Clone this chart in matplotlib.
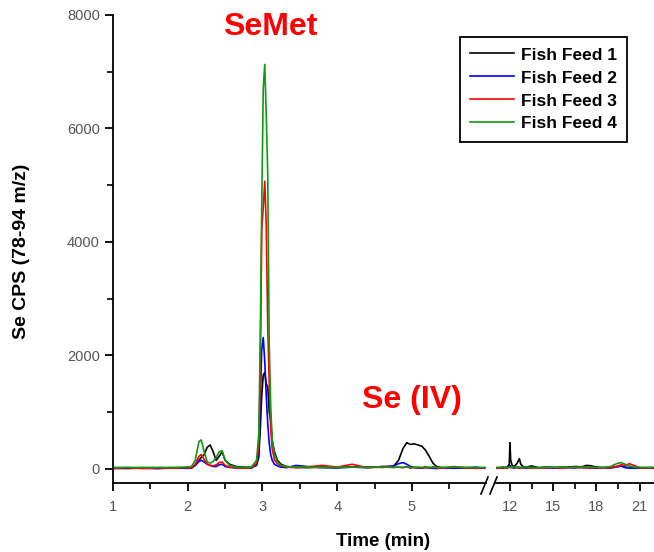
import numpy as np
import matplotlib.pyplot as plt
from matplotlib.lines import Line2D
from matplotlib.ticker import MultipleLocator, FixedLocator

plt.rcParams['font.family'] = ['Liberation Sans', 'DejaVu Sans']

# retention time grid, first part (min)
t_left = [1.00, 1.20, 1.40, 1.60, 1.80, 1.95, 2.05, 2.10, 2.15, 2.18, 2.22, 2.26,
          2.30, 2.34, 2.38, 2.42, 2.46, 2.50, 2.56, 2.65, 2.75, 2.85, 2.92, 2.95,
          2.97, 2.99, 3.01, 3.03, 3.05, 3.07, 3.09, 3.11, 3.13, 3.16, 3.20, 3.25,
          3.32, 3.45, 3.60, 3.80, 4.00, 4.20, 4.40, 4.60, 4.75, 4.82, 4.88, 4.93,
          4.98, 5.03, 5.08, 5.13, 5.18, 5.23, 5.28, 5.33, 5.40, 5.55, 5.70, 5.85, 5.97]

feed1_left = [10, 5, 15, 8, 12, 15, 20, 60, 150, 200, 250, 380,
              420, 300, 150, 220, 300, 150, 80, 40, 30, 25, 60, 200,
              700, 1300, 1650, 1700, 1500, 1440, 1000, 850, 500, 300, 150, 80,
              40, 25, 20, 30, 25, 35, 30, 25, 40, 150, 360, 460,
              430, 440, 420, 400, 330, 220, 100, 40, 20, 15, 20, 10, 15]
feed2_left = [5, 15, 10, 5, 20, 10, 10, 60, 130, 150, 120, 80,
              60, 40, 40, 70, 80, 40, 25, 15, 20, 10, 80, 300,
              1200, 2100, 2315, 1900, 1300, 800, 450, 250, 150, 80, 50, 30,
              20, 60, 40, 20, 15, 30, 20, 40, 50, 90, 110, 80,
              40, 20, 15, 10, 20, 15, 10, 5, 20, 10, 15, 30, 10]
feed3_left = [10, 20, 5, 15, 10, 20, 20, 80, 220, 250, 160, 80,
              60, 50, 70, 110, 120, 60, 30, 20, 10, 15, 100, 400,
              1700, 4200, 4600, 5070, 4300, 2500, 1500, 700, 350, 160, 90, 50,
              30, 20, 35, 60, 30, 80, 20, 40, 25, 30, 20, 40,
              10, 30, 20, 15, 40, 10, 35, 20, 10, 40, 20, 10, 20]
feed4_left = [25, 25, 25, 25, 25, 30, 40, 150, 480, 510, 300, 120,
              100, 130, 200, 300, 320, 150, 60, 30, 25, 30, 150, 600,
              2300, 4650, 6700, 7130, 6250, 5200, 2200, 1100, 500, 250, 120, 60,
              40, 30, 30, 25, 25, 30, 25, 30, 25, 30, 25, 30,
              25, 25, 30, 25, 25, 30, 25, 25, 25, 30, 25, 25, 25]

# second part, after the axis break
t_right = [11.1, 11.5, 11.8, 11.95, 12.0, 12.05, 12.15, 12.3, 12.5, 12.65, 12.75,
           12.9, 13.1, 13.5, 14.0, 14.5, 15.0, 15.5, 16.0, 16.5, 17.0, 17.3,
           17.6, 18.0, 18.5, 19.0, 19.4, 19.7, 20.0, 20.3, 20.6, 21.0, 21.5, 22.0]

feed1_right = [20, 10, 30, 80, 460, 150, 60, 40, 100, 180, 80,
               40, 30, 50, 20, 30, 25, 20, 30, 40, 35, 60,
               55, 30, 20, 25, 40, 50, 30, 20, 25, 15, 20, 20]
feed2_right = [10, 30, 20, 40, 60, 30, 20, 10, 30, 20, 15,
               20, 10, 25, 15, 20, 10, 30, 20, 15, 30, 20,
               25, 10, 20, 15, 30, 50, 20, 15, 10, 20, 15, 10]
feed3_right = [15, 20, 10, 30, 40, 20, 30, 15, 20, 10, 25,
               15, 30, 10, 20, 15, 25, 10, 20, 30, 15, 20,
               10, 25, 15, 20, 40, 70, 60, 90, 60, 20, 15, 20]
feed4_right = [25, 25, 30, 25, 30, 25, 30, 25, 25, 30, 25,
               25, 30, 25, 20, 30, 25, 30, 25, 25, 30, 35,
               30, 25, 25, 40, 90, 110, 80, 50, 30, 25, 25, 25]

labels = ['Fish Feed 1', 'Fish Feed 2', 'Fish Feed 3', 'Fish Feed 4']
colors = ['#000000', '#0000ff', '#ff0000', '#119911']

left_data = [feed1_left, feed2_left, feed3_left, feed4_left]
right_data = [feed1_right, feed2_right, feed3_right, feed4_right]

fig = plt.figure(figsize=(6.54, 5.52), dpi=100)
ax1 = fig.add_axes([113/654, 69/552, 373/654, 468/552])
ax2 = fig.add_axes([496/654, 69/552, 158/654, 468/552], sharey=ax1)
ax2.patch.set_visible(False)

handles = []
for i in range(4):
    h, = ax1.plot(t_left, left_data[i], color=colors[i], lw=1.2, label=labels[i])
    ax2.plot(t_right, right_data[i], color=colors[i], lw=1.2)
    handles.append(h)

ax1.set_xlim(1, 5.99)
ax2.set_xlim(11.03, 22.0)
ax1.set_ylim(-250, 8000)

tick_color = '#555555'
for ax in [ax1, ax2]:
    ax.spines['right'].set_visible(False)
    ax.spines['top'].set_visible(False)
    ax.spines['bottom'].set_linewidth(1.3)
    ax.spines['left'].set_linewidth(1.3)
    ax.tick_params(which='major', direction='out', length=6, width=1.3,
                   labelsize=10.5, labelcolor=tick_color)
    ax.tick_params(which='minor', direction='out', length=4, width=1.2)

ax2.spines['left'].set_visible(False)
ax2.tick_params(axis='y', which='both', left=False, labelleft=False)

ax1.xaxis.set_major_locator(MultipleLocator(1))
ax1.xaxis.set_minor_locator(MultipleLocator(0.5))
ax1.yaxis.set_major_locator(MultipleLocator(2000))
ax1.yaxis.set_minor_locator(MultipleLocator(1000))
ax2.xaxis.set_major_locator(FixedLocator([12, 15, 18, 21]))
ax2.xaxis.set_minor_locator(FixedLocator([13.5, 16.5, 19.5]))
ax1.tick_params(axis='x', pad=6)
ax2.tick_params(axis='x', pad=6)

# axis break marks
for x0 in [485, 494]:
    fig.add_artist(Line2D([(x0 - 4)/654, (x0 + 3)/654], [(552 - 494)/552, (552 - 477)/552],
                          color='black', lw=1.2, transform=fig.transFigure))

fig.text(22/654, 1 - 251/552, 'Se CPS (78-94 m/z)', rotation=90, ha='center',
         va='center', fontsize=14, fontweight='bold')
fig.text(383/654, 1 - 541/552, 'Time (min)', ha='center', va='center',
         fontsize=13.5, fontweight='bold')

fig.text(270/654, 1 - 27/552, 'SeMet', color='#ff0000', fontsize=23,
         fontweight='bold', ha='center', va='center')
fig.text(412/654, 1 - 400/552, 'Se (IV)', color='#ff0000', fontsize=23,
         fontweight='bold', ha='center', va='center')

leg = fig.legend(handles=handles, labels=labels, loc='upper left',
                 bbox_to_anchor=(460/654, 1 - 37/552), borderaxespad=0,
                 frameon=True, fancybox=False, framealpha=1, edgecolor='black',
                 handlelength=2.5, handletextpad=0.4, labelspacing=0.45,
                 borderpad=0.6, prop={'weight': 'bold', 'size': 12.5})
leg.get_frame().set_linewidth(1.3)

fig.savefig('out.png', dpi=100)
